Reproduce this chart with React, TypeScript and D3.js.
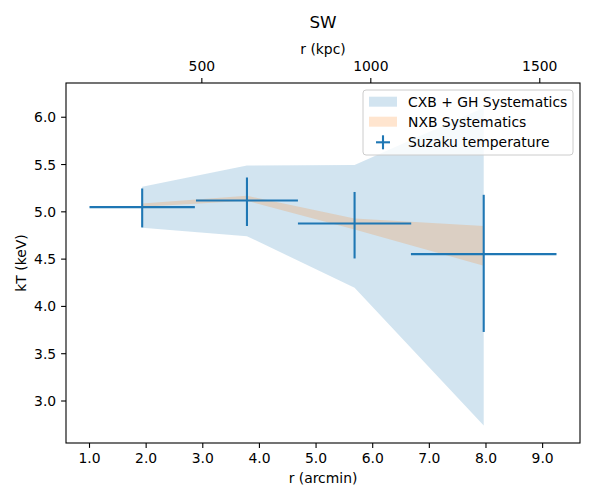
import React from "react";
import * as d3 from "d3";

// Suzaku SW profile
const radius = [1.93, 3.78, 5.68, 7.96];
const radiusErr = [0.93, 0.9, 1.0, 1.285];
const kT = [5.05, 5.12, 4.877, 4.553];
const kTHigh = [5.247, 5.363, 5.21, 5.18];
const kTLow = [4.835, 4.85, 4.507, 3.73];

const cxbHigh = [5.264, 5.49, 5.496, 6.1];
const cxbLow = [4.831, 4.743, 4.197, 2.74];
const nxbHigh = [5.089, 5.169, 4.93, 4.85];
const nxbLow = [5.053, 5.116, 4.814, 4.43];

const xTicks = [1, 2, 3, 4, 5, 6, 7, 8, 9];
const yTicks = [3.0, 3.5, 4.0, 4.5, 5.0, 5.5, 6.0];
const kpcTicks = [500, 1000, 1500];
const kpcPerArcmin = 167.6;

const legendLabels = ["CXB + GH Systematics", "NXB Systematics", "Suzaku temperature"];

const width = 600;
const height = 500;
const margin = { top: 83, right: 20, bottom: 57, left: 66 };
const font = "DejaVu Sans, sans-serif";
const blue = "#1f77b4";
const orange = "#ff7f0e";

export default function App() {
  const x = d3.scaleLinear()
    .domain([0.585, 9.66])
    .range([margin.left, width - margin.right]);
  const xTop = d3.scaleLinear()
    .domain(x.domain().map(d => d * kpcPerArcmin))
    .range(x.range());
  const y = d3.scaleLinear()
    .domain([2.556, 6.362])
    .range([height - margin.bottom, margin.top]);

  const band = d3.area<number>()
    .x((_, i) => x(radius[i]));
  const cxbPath = band.y0((_, i) => y(cxbLow[i])).y1((_, i) => y(cxbHigh[i]))(radius);
  const nxbPath = d3.area<number>()
    .x((_, i) => x(radius[i]))
    .y0((_, i) => y(nxbLow[i]))
    .y1((_, i) => y(nxbHigh[i]))(radius);

  const fmt = d3.format(".1f");
  const bottom = height - margin.bottom;
  const left = margin.left;
  const right = width - margin.right;
  const top = margin.top;
  const cx = (left + right) / 2;
  const cy = (top + bottom) / 2;

  const lgX = 363;
  const lgY = 90;
  const rowY = [101.7, 121.7, 142.3];

  return (
    <svg width={width} height={height} style={{ position: "absolute", left: 0, top: 0 }}
      fontFamily={font}>
      <rect width={width} height={height} fill="white" />

      <path d={cxbPath!} fill={blue} fillOpacity={0.2} />
      <path d={nxbPath!} fill={orange} fillOpacity={0.2} />

      <g stroke={blue} strokeWidth={2.1}>
        {radius.map((r, i) => (
          <g key={i}>
            <line x1={x(r - radiusErr[i])} x2={x(r + radiusErr[i])} y1={y(kT[i])} y2={y(kT[i])} />
            <line x1={x(r)} x2={x(r)} y1={y(kTLow[i])} y2={y(kTHigh[i])} />
          </g>
        ))}
      </g>

      <rect x={left} y={top} width={right - left} height={bottom - top}
        fill="none" stroke="black" strokeWidth={1.1} />

      {/* bottom axis */}
      {xTicks.map(t => (
        <g key={t} transform={`translate(${x(t)},${bottom})`}>
          <line y2={4.9} stroke="black" strokeWidth={1.1} />
          <text y={20} textAnchor="middle" fontSize={13.9}>{fmt(t)}</text>
        </g>
      ))}
      <text x={cx} y={483} textAnchor="middle" fontSize={13.9}>r (arcmin)</text>

      {/* left axis */}
      {yTicks.map(t => (
        <g key={t} transform={`translate(${left},${y(t)})`}>
          <line x2={-4.9} stroke="black" strokeWidth={1.1} />
          <text x={-9.8} dy="0.36em" textAnchor="end" fontSize={13.9}>{fmt(t)}</text>
        </g>
      ))}
      <text transform={`translate(26,${cy}) rotate(-90)`} textAnchor="middle" fontSize={13.9}>kT (keV)</text>

      {/* top axis in kpc */}
      {kpcTicks.map(t => (
        <g key={t} transform={`translate(${xTop(t)},${top})`}>
          <line y2={-4.9} stroke="black" strokeWidth={1.1} />
          <text y={-12} textAnchor="middle" fontSize={13.9}>{t}</text>
        </g>
      ))}
      <text x={cx} y={54} textAnchor="middle" fontSize={13.9}>r (kpc)</text>
      <text x={cx} y={28.3} textAnchor="middle" fontSize={16.7}>SW</text>

      {/* legend */}
      <rect x={lgX} y={lgY} width={210} height={65} rx={3} fill="white" fillOpacity={0.8}
        stroke="#cccccc" strokeWidth={1} />
      <rect x={369} y={rowY[0] - 5} width={28} height={10} fill={blue} fillOpacity={0.2} />
      <rect x={369} y={rowY[1] - 5} width={28} height={10} fill={orange} fillOpacity={0.2} />
      <g stroke={blue} strokeWidth={2.1}>
        <line x1={376} x2={390} y1={rowY[2]} y2={rowY[2]} />
        <line x1={383} x2={383} y1={rowY[2] - 7} y2={rowY[2] + 7} />
      </g>
      {legendLabels.map((l, i) => (
        <text key={l} x={408} y={rowY[i]} dy="0.36em" fontSize={13.9}>{l}</text>
      ))}
    </svg>
  );
}
